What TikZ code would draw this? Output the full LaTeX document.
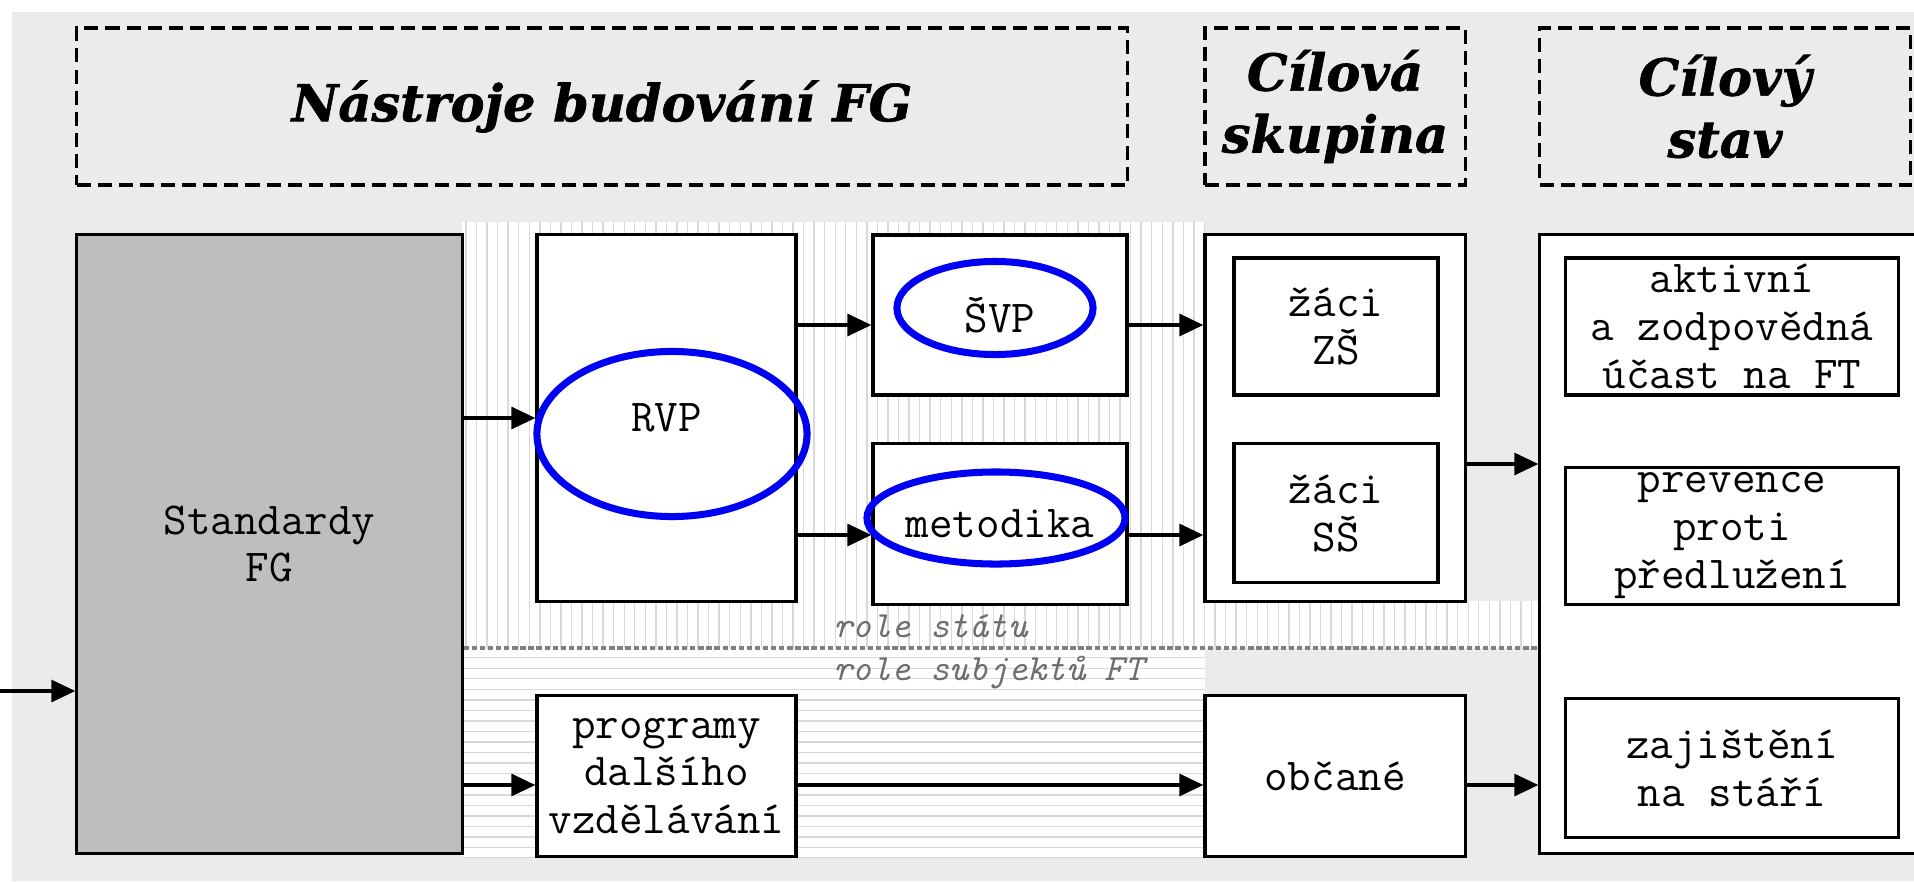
\documentclass[tikz,border=0pt]{standalone}
\usepackage{fontspec}
\newfontfamily\headfont[BoldItalicFeatures={FakeBold=1.2}]{DejaVu Serif}
\usetikzlibrary{positioning, arrows.meta, shapes.geometric, patterns}
\definecolor{paper}{HTML}{EBEBEB}
\definecolor{stdgray}{HTML}{BEBEBE}
\definecolor{ringblue}{HTML}{0000F5}
\definecolor{rolegray}{HTML}{6E6E6E}

\begin{document}
\begin{tikzpicture}[x=0.01cm, y=-0.01cm, line width=0.9pt,
		>={Triangle[length=0.24cm, width=0.22cm]},
		box/.style={draw, fill=white, inner sep=0pt, align=center,
			font=\ttfamily\fontsize{13}{13.6}\selectfont},
		head/.style={draw, dash pattern=on 4pt off 2pt, inner sep=0pt, align=center,
			minimum height=1.57cm, font=\headfont\bfseries\itshape\fontsize{14.5}{17.6}\selectfont},
		ring/.style={draw=ringblue, ellipse, line width=2pt, inner sep=0pt},
		role/.style={anchor=base west, text=rolegray, inner sep=0pt,
			font=\ttfamily\itshape\fontsize{10.5}{10.5}\selectfont},
		divider/.style={draw=gray, line width=1.1pt, dash pattern=on 1.5pt off 0.8pt}]

		\path[use as bounding box] (0,0) rectangle (1914,881);
		\clip (0,0) rectangle (1914,881);
		\fill[white] (0,0) rectangle (1914,881);
		\fill[paper] (12,12) rectangle (1914,881);
		% striped strips between the boxes
		\fill[white] (462,222) rectangle (1205,648);
		\fill[white] (1205,601) rectangle (1539,648);
		\fill[white] (462,648) rectangle (1205,857);
		\fill[pattern=vertical lines, pattern color=gray!30] (462,222) rectangle (1205,648);
		\fill[pattern=vertical lines, pattern color=gray!30] (1205,601) rectangle (1539,648);
		\fill[pattern=horizontal lines, pattern color=gray!30] (462,648) rectangle (1205,857);

		% column headers
		\node[head, minimum width=10.50cm] (tools) at (602,106.5) {Nástroje budování FG};
		\node[head, minimum width=2.60cm] (group) at (1335,106.5) {Cílová\\skupina};
		\node[head, minimum width=3.70cm] (goal) at (1725,106.5) {Cílový\\stav};

		\node[box, fill=stdgray, minimum width=3.85cm, minimum height=6.18cm] (std) at (269.5,544) {Standardy\\FG};
		\node[box, minimum width=2.59cm, minimum height=3.66cm] (rvp) at (666.5,418) {RVP};
		\node[box, minimum width=2.59cm, minimum height=1.61cm] (prog) [below=0.91cm of rvp] {programy\\dalšího\\vzdělávání};
		\node[box, minimum width=2.54cm, minimum height=1.60cm] (svp) at (1000,315) {ŠVP};
		\node[box, minimum width=2.54cm, minimum height=1.61cm] (met) [below=0.45cm of svp] {metodika};
		\node[box, minimum width=2.60cm, minimum height=3.66cm] (grp) at (1335,418) {};
		\node[box, minimum width=2.04cm, minimum height=1.37cm] (zs) at (1336,326.5) {žáci\\ZŠ};
		\node[box, minimum width=2.04cm, minimum height=1.39cm] (ss) [below=0.45cm of zs] {žáci\\SŠ};
		\node[box, minimum width=2.60cm, minimum height=1.61cm] (obc) [below=0.91cm of grp] {občané};
		\node[box, minimum width=3.80cm, minimum height=6.18cm] (stav) at (1730,544) {};
		\node[box, minimum width=3.32cm, minimum height=1.37cm] (akt) at (1732,326.5) {aktivní\\a zodpovědná\\účast na FT};
		\node[box, minimum width=3.32cm, minimum height=1.37cm] (prev) [below=0.69cm of akt] {prevence\\proti\\předlužení};
		\node[box, minimum width=3.32cm, minimum height=1.39cm] (zaj) [below=0.91cm of prev] {zajištění\\na stáří};

		% blue marks
		\node[ring, minimum width=2.70cm, minimum height=1.65cm] (rvpring) at (672,434) {};
		\node[ring, minimum width=1.96cm, minimum height=0.93cm] (svpring) at (995,308) {};
		\node[ring, minimum width=2.58cm, minimum height=0.92cm] (metring) at (996,518) {};

		% state / subjects divide
		\draw[divider] (std.east |- 0,648) -- (stav.west |- 0,648);
		\node[role] (state) at (832,637) {role státu};
		\node[role] (actors) at (832,680) {role subjektů FT};

		\coordinate (entry) at (0,691);
		\path[->]
			(entry)              edge (std.west |- entry)
			(std.east |- rvp.west) edge (rvp.west)
			(std.east |- 0,785)  edge (prog.west |- 0,785)
			(rvp.east |- 0,325)  edge (svp.west |- 0,325)
			(rvp.east |- 0,535)  edge (met.west |- 0,535)
			(svp.east |- 0,325)  edge (grp.west |- 0,325)
			(met.east |- 0,535)  edge (grp.west |- 0,535)
			(prog.east |- 0,785) edge (obc.west |- 0,785)
			(grp.east |- 0,464)  edge (stav.west |- 0,464)
			(obc.east |- 0,785)  edge (stav.west |- 0,785)
			;
	\end{tikzpicture}
\end{document}
